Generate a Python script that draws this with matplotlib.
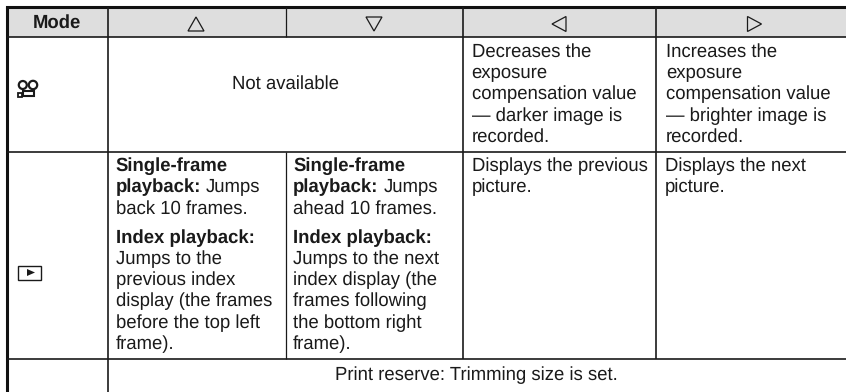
import matplotlib
matplotlib.use('Agg')
import matplotlib.pyplot as plt
from matplotlib.patches import Rectangle, Circle, Polygon

plt.rcParams['font.family'] = ['Liberation Sans', 'DejaVu Sans']
plt.rcParams['text.hinting'] = 'no_hinting'
plt.rcParams['text.hinting_factor'] = 8

header_label = 'Mode'
arrows = ['up', 'down', 'left', 'right']
not_available = 'Not available'
print_reserve = 'Print reserve: Trimming size is set.'
decrease_text = ['Decreases the', 'exposure', 'compensation value', '\u2014 darker image is', 'recorded.']
increase_text = ['Increases the', 'exposure', 'compensation value', '\u2014 brighter image is', 'recorded.']
single_prev = ['Jumps', 'back 10 frames.']
single_next = ['Jumps', 'ahead 10 frames.']
index_prev = ['Jumps to the', 'previous index', 'display (the frames', 'before the top left', 'frame).']
index_next = ['Jumps to the next', 'index display (the', 'frames following', 'the bottom right', 'frame).']
prev_text = ['Displays the previous', 'picture.']
next_text = ['Displays the next', 'picture.']

col_x = [7, 108, 285.5, 463, 656, 846]
row_y = [7, 37, 152, 358.5, 392]
line_h = 21.3
fs = 13.35
ink = '#1a1a1a'

fig = plt.figure(figsize=(8.46, 3.92), dpi=100)
ax = fig.add_axes([0, 0, 1, 1])
ax.set_xlim(0, 846)
ax.set_ylim(392, 0)
ax.axis('off')


def lines(x, y, rows, **kw):
    for i, row in enumerate(rows):
        ax.text(x, y + i * line_h, row, fontsize=fs, color=ink, va='center', ha='left', **kw)


# header band and grid
ax.add_patch(Rectangle((col_x[0], row_y[0]), 846 - col_x[0], row_y[1] - row_y[0], fc='#dedede', ec='none'))
ax.plot([col_x[0], 846], [row_y[0]] * 2, color='#111111', lw=2.2, solid_capstyle='projecting')
ax.plot([col_x[0]] * 2, [row_y[0], 392], color='#111111', lw=2.2, solid_capstyle='butt')
for y in row_y[1:4]:
    ax.plot([col_x[0], 846], [y] * 2, color=ink, lw=1.2, solid_capstyle='butt')
ax.plot([col_x[1]] * 2, [row_y[0], 392], color=ink, lw=1.2, solid_capstyle='butt')
ax.plot([col_x[2]] * 2, [row_y[0], row_y[1]], color=ink, lw=0.9, solid_capstyle='butt')
ax.plot([col_x[2]] * 2, [row_y[2], row_y[3]], color=ink, lw=0.9, solid_capstyle='butt')
for x in col_x[3:5]:
    ax.plot([x] * 2, [row_y[0], row_y[3]], color=ink, lw=1.2, solid_capstyle='butt')

ax.text(57, 23, header_label, fontsize=fs, fontweight='bold', color=ink, ha='center', va='center')

# arrow outlines in the header
shapes = {
    'up': [(-8, 7), (8, 7), (0, -7)],
    'down': [(-8, -7), (8, -7), (0, 7)],
    'left': [(7, -7.5), (7, 7.5), (-7, 0)],
    'right': [(-7, -7.5), (-7, 7.5), (7, 0)],
}
for name, cx in zip(arrows, [196, 374, 559, 754.5]):
    pts = [(cx + a, 24 + b) for a, b in shapes[name]]
    ax.add_patch(Polygon(pts, closed=True, fc='none', ec=ink, lw=0.9))

# movie camera icon
ax.add_patch(Circle((22.8, 85), 4, fc='none', ec=ink, lw=1.6))
ax.add_patch(Circle((33, 85), 4.2, fc='none', ec=ink, lw=1.6))
ax.add_patch(Rectangle((22.5, 91), 11.5, 5, fc='none', ec=ink, lw=1.5))
ax.add_patch(Rectangle((18, 93), 3.5, 3.5, fc='none', ec=ink, lw=1.3))

# playback icon
ax.add_patch(Rectangle((18, 265.5), 23, 14, fc='none', ec=ink, lw=1))
ax.add_patch(Polygon([(27, 269), (27, 276), (35, 272.5)], closed=True, fc=ink, ec='none'))

ax.text(285.5, 84, not_available, fontsize=fs, color=ink, ha='center', va='center')
ax.text(476, 375, print_reserve, fontsize=fs, color=ink, ha='center', va='center')
lines(471.5, 52, decrease_text)
lines(666, 52, increase_text)
lines(471.5, 166, prev_text)
lines(665, 166, next_text)

ax.text(115.5, 166, 'Single-frame', fontsize=fs, fontweight='bold', color=ink, va='center')
ax.text(115.5, 187.5, 'playback:', fontsize=fs, fontweight='bold', color=ink, va='center')
lines(206, 187.5, single_prev[:1])
lines(115.5, 209, single_prev[1:])
ax.text(115.5, 238, 'Index playback:', fontsize=fs, fontweight='bold', color=ink, va='center')
lines(115.5, 259, index_prev)

ax.text(293, 166, 'Single-frame', fontsize=fs, fontweight='bold', color=ink, va='center')
ax.text(293, 187.5, 'playback:', fontsize=fs, fontweight='bold', color=ink, va='center')
lines(383.5, 187.5, single_next[:1])
lines(293, 209, single_next[1:])
ax.text(293, 238, 'Index playback:', fontsize=fs, fontweight='bold', color=ink, va='center')
lines(293, 259, index_next)

fig.savefig('out.png', dpi=100)
